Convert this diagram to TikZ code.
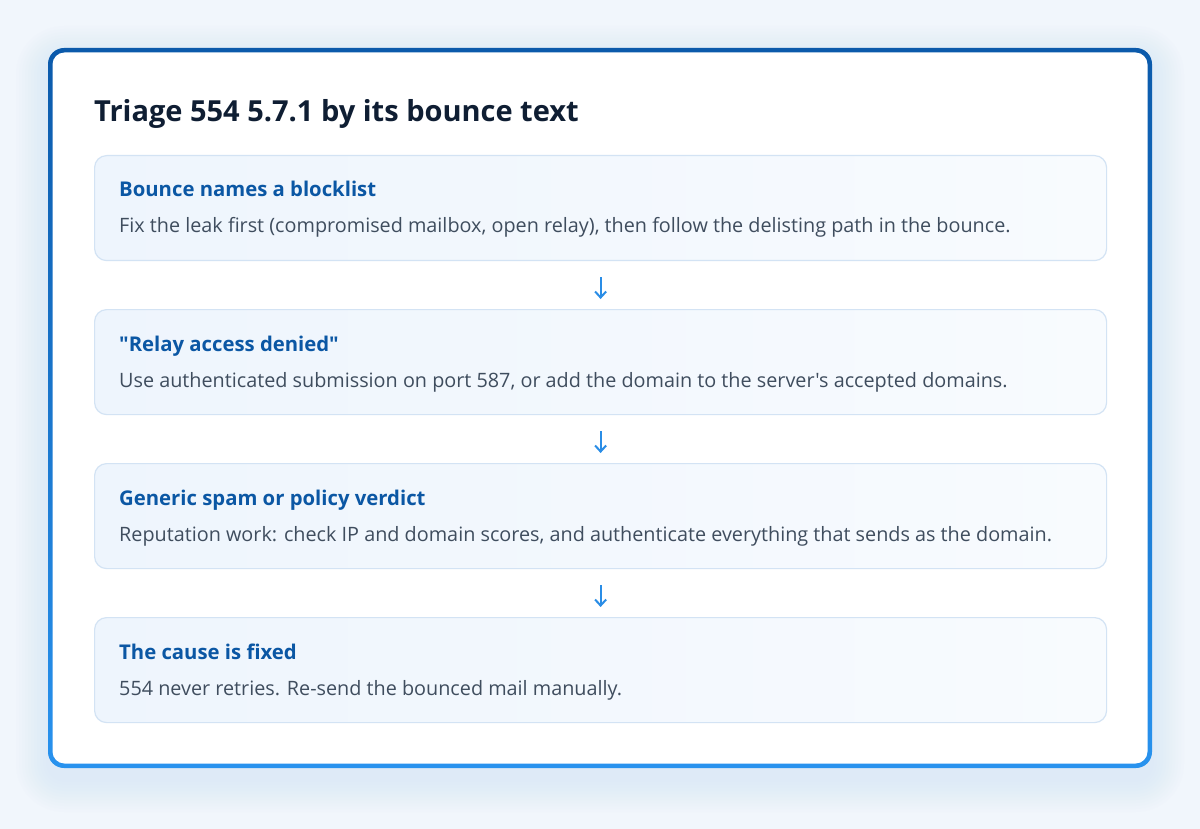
\documentclass[tikz,border=0pt]{standalone}
\usepackage{fontspec}
\setmainfont{Open Sans}
\newfontfamily\bodyfont{Open Sans}
\usetikzlibrary{arrows.meta}
\definecolor{bgc}{HTML}{F1F6FC}
\definecolor{shc}{HTML}{CFE2F7}
\definecolor{frA}{HTML}{0B5AAB}
\definecolor{frB}{HTML}{2892EE}
\definecolor{titc}{HTML}{0F1E33}
\definecolor{headc}{HTML}{0B57A4}
\definecolor{bodyc}{HTML}{3F4D5E}
\definecolor{boxb}{HTML}{D3E3F4}
\definecolor{boxl}{HTML}{EEF5FD}
\definecolor{boxr}{HTML}{F8FBFE}
\definecolor{arrc}{HTML}{2A8DE6}
\tikzset{
  stepbox/.style={draw=boxb, line width=1.2pt, rounded corners=12pt, left color=boxl, right color=boxr,
    minimum width=1012pt, minimum height=105pt, anchor=north west, inner sep=0pt},
  headtxt/.style={anchor=base west, inner sep=0pt, text=headc, font=\bodyfont\fontsize{20.3}{24}\selectfont\bfseries},
  bodytxt/.style={anchor=base west, inner sep=0pt, text=bodyc, font=\bodyfont\fontsize{19.8}{22}\selectfont},
  flowarr/.style={draw=arrc, line width=2pt, -{Straight Barb[length=6pt,width=11pt,line width=2pt]}, shorten <=16pt, shorten >=10pt}
}
\begin{document}
\begin{tikzpicture}[x=1pt,y=-1pt]
\useasboundingbox (0,0) rectangle (1200,829);
\fill[bgc] (0,0) rectangle (1200,829);
% soft shadow
\foreach \d in {2,5,...,32} {
  \fill[shc, opacity=0.05, rounded corners=16pt+\d pt] (48-\d,58-\d) rectangle (1152+\d,780+\d);
}
% frame
\shade[left color=frA, right color=frB, shading angle=0, rounded corners=16pt] (48,48) rectangle (1152,768);
\fill[white, rounded corners=12pt] (52.5,52.5) rectangle (1147.5,763.5);
\node[anchor=base west, inner sep=0pt, text=titc, font=\bodyfont\fontsize{29}{38}\selectfont\bfseries] (title) at (94,122) {Triage 554 5.7.1 by its bounce text};
% boxes
\node[stepbox] (b1) at (94,155) {};
\node[stepbox] (b2) at (94,309) {};
\node[stepbox] (b3) at (94,463) {};
\node[stepbox] (b4) at (94,617) {};
\node[headtxt] (h1) at (119,197) {Bounce names a blocklist};
\node[bodytxt] (t1) at (119,233) {Fix the leak first (compromised mailbox, open relay), then follow the delisting path in the bounce.};
\node[headtxt] (h2) at (119,351) {"Relay access denied"};
\node[bodytxt] (t2) at (119,387) {Use authenticated submission on port 587, or add the domain to the server's accepted domains.};
\node[headtxt] (h3) at (119,505) {Generic spam or policy verdict};
\node[bodytxt] (t3) at (119,541) {Reputation work: check IP and domain scores, and authenticate everything that sends as the domain.};
\node[headtxt] (h4) at (119,659) {The cause is fixed};
\node[bodytxt] (t4) at (119,695) {554 never retries. Re-send the bounced mail manually.};
\draw[flowarr] (b1.south) -- (b2.north);
\draw[flowarr] (b2.south) -- (b3.north);
\draw[flowarr] (b3.south) -- (b4.north);
\end{tikzpicture}
\end{document}
